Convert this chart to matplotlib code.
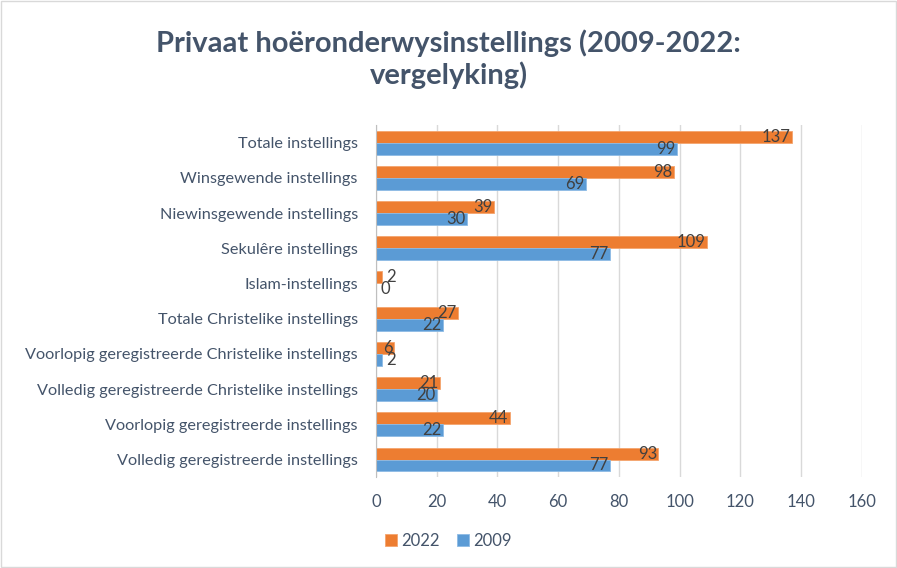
import matplotlib.pyplot as plt
import numpy as np

plt.rcParams['font.family'] = ['Lato', 'DejaVu Sans']

categories = [
    'Totale instellings',
    'Winsgewende instellings',
    'Niewinsgewende instellings',
    'Sekulêre instellings',
    'Islam-instellings',
    'Totale Christelike instellings',
    'Voorlopig geregistreerde Christelike instellings',
    'Volledig geregistreerde Christelike instellings',
    'Voorlopig geregistreerde instellings',
    'Volledig geregistreerde instellings',
]
values_2022 = [137, 98, 39, 109, 2, 27, 6, 21, 44, 93]
values_2009 = [99, 69, 30, 77, 0, 22, 2, 20, 22, 77]
xticks = [0, 20, 40, 60, 80, 100, 120, 140, 160]

orange = '#ED7D31'
blue = '#5B9BD5'
text_col = '#44546A'
label_col = '#404040'

fig = plt.figure(figsize=(8.97, 5.68), dpi=100)
ax = fig.add_axes([0.419, 0.160, 0.542, 0.620])

y = np.arange(len(categories))
h = 0.34
bars_o = ax.barh(y - h / 2, values_2022, height=h, color=orange, edgecolor='#F4A46E', linewidth=0.6, label='2022')
bars_b = ax.barh(y + h / 2, values_2009, height=h, color=blue, edgecolor='#8DBBE5', linewidth=0.6, label='2009')

# datalabels: inside end, or just outside for tiny bars
for bars, vals in ((bars_o, values_2022), (bars_b, values_2009)):
    for b, v in zip(bars, vals):
        yc = b.get_y() + b.get_height() / 2
        if v <= 2:
            ax.text(v + 1.5, yc, str(v), ha='left', va='center', fontsize=12, color=label_col)
        else:
            ax.text(v - 0.5, yc, str(v), ha='right', va='center', fontsize=12, color=label_col)

ax.set_ylim(len(categories) - 0.5, -0.5)
ax.set_xlim(0, 160)
ax.set_xticks(xticks)
ax.set_yticks(y)
ax.set_yticklabels(categories)
ax.tick_params(axis='y', length=0, pad=13, labelsize=11.7, labelcolor=text_col)
ax.tick_params(axis='x', length=0, pad=12, labelsize=12, labelcolor=text_col)

ax.grid(axis='x', color='#D9D9D9', linewidth=1)
ax.set_axisbelow(True)
for s in ('top', 'right', 'bottom'):
    ax.spines[s].set_visible(False)
ax.spines['left'].set_color('#BFBFBF')

fig.text(0.5, 0.895, 'Privaat hoëronderwysinstellings (2009-2022:\nvergelyking)',
         ha='center', va='center', fontsize=21, fontweight='bold', color=text_col,
         linespacing=1.2)

ax.legend(loc='center', bbox_to_anchor=(0.5, 0.0474), bbox_transform=fig.transFigure,
          ncol=2, frameon=False, fontsize=12, handlelength=0.7, handleheight=0.7,
          handletextpad=0.3, columnspacing=1.0, labelcolor=text_col)

# thin outer border
fig.patches.append(plt.Rectangle((0.001, 0.001), 0.998, 0.998, transform=fig.transFigure,
                                 fill=False, edgecolor='#D9D9D9', linewidth=1))

fig.savefig('out.png', dpi=100)
